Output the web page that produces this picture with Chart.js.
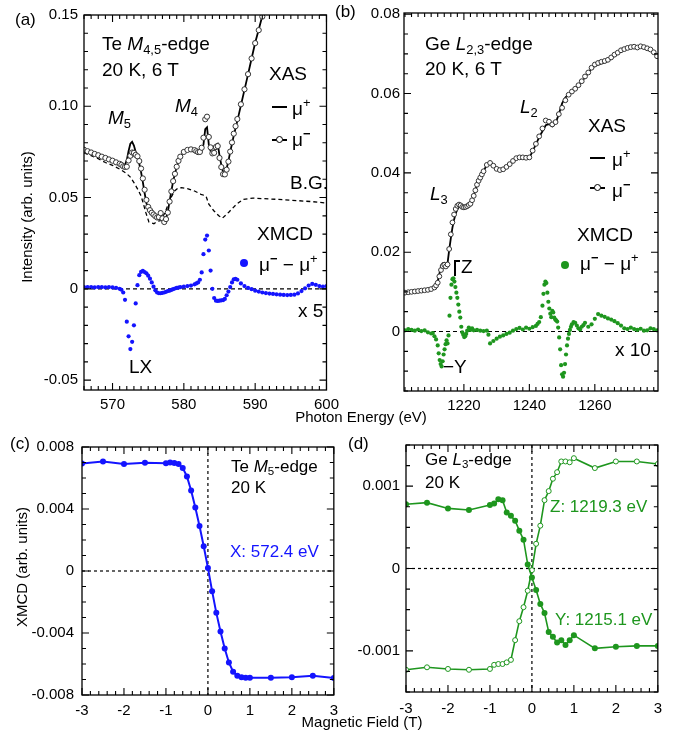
<!DOCTYPE html>
<html lang="en">
<head>
<meta charset="UTF-8">
<title>Te M4,5 / Ge L2,3 XAS and XMCD</title>
<script src="https://cdn.jsdelivr.net/npm/chart.js"></script>
<style>
  body { margin: 0; background: #fff; }
  #fig { position: relative; width: 675px; height: 737px; font-family: 'Liberation Sans', Arial, sans-serif; color: #000; }
  canvas { position: absolute; }
  .t { position: absolute; white-space: nowrap; line-height: 1; }
  .t sub { font-size: 0.68em; position: relative; top: 0.3em; vertical-align: baseline; }
  .t sup { font-size: 0.68em; position: relative; top: -0.6em; vertical-align: baseline; }
  .ln { position: absolute; height: 1.6px; background: #000; }
  .oc { position: absolute; width: 5px; height: 5px; border: 1px solid #000; border-radius: 50%; background: #fff; }
  .dot { position: absolute; width: 8px; height: 8px; border-radius: 50%; }
  .vl { position: absolute; width: 1.5px; background: #000; }
  .rot { position: absolute; white-space: nowrap; font-size: 15px; line-height: 1; transform: translate(-50%, -50%) rotate(-90deg); }
</style>
</head>
<body>
<div id="fig">
  <canvas id="ca" width="345" height="410" style="left:0;top:0"></canvas>
  <canvas id="cb" width="330" height="410" style="left:340px;top:0"></canvas>
  <canvas id="cc" width="345" height="290" style="left:0;top:430px"></canvas>
  <canvas id="cd" width="330" height="290" style="left:340px;top:430px"></canvas>

  <!-- panel labels and axis titles -->
  <div class="t" style="left:15px;top:11px;font-size:17px">(a)</div>
  <div class="t" style="left:335px;top:3px;font-size:17px">(b)</div>
  <div class="t" style="left:10px;top:435px;font-size:17px">(c)</div>
  <div class="t" style="left:348px;top:435px;font-size:17px">(d)</div>
  <div class="t" style="left:361px;top:409px;font-size:15px;transform:translateX(-50%)">Photon Energy (eV)</div>
  <div class="t" style="left:362px;top:714px;font-size:15px;transform:translateX(-50%)">Magnetic Field (T)</div>
  <div class="rot" style="left:26px;top:217px">Intensity (arb. units)</div>
  <div class="rot" style="left:21px;top:567px">XMCD (arb. units)</div>

  <!-- (a) annotations -->
  <div class="t" style="left:102px;top:34px;font-size:19px">Te <i>M</i><sub>4,5</sub>-edge</div>
  <div class="t" style="left:102px;top:60px;font-size:19px">20 K, 6 T</div>
  <div class="t" style="left:108px;top:108px;font-size:19px"><i>M</i><sub>5</sub></div>
  <div class="t" style="left:175px;top:96px;font-size:19px"><i>M</i><sub>4</sub></div>
  <div class="t" style="left:269px;top:64px;font-size:19px">XAS</div>
  <div class="ln" style="left:272px;top:106px;width:15px"></div>
  <div class="t" style="left:292px;top:99px;font-size:19px">μ<sup>+</sup></div>
  <div class="ln" style="left:272px;top:139px;width:15px"></div>
  <div class="oc" style="left:276px;top:136px"></div>
  <div class="t" style="left:292px;top:130px;font-size:19px">μ<sup><b>−</b></sup></div>
  <div class="t" style="left:290px;top:173px;font-size:19px">B.G.</div>
  <div class="t" style="left:257px;top:224px;font-size:19px">XMCD</div>
  <div class="dot" style="left:240px;top:259px;background:#1414ff"></div>
  <div class="t" style="left:259px;top:255px;font-size:19px">μ<sup><b>−</b></sup> − μ<sup>+</sup></div>
  <div class="t" style="left:298px;top:301px;font-size:19px">x 5</div>
  <div class="t" style="left:129px;top:357px;font-size:19px">LX</div>

  <!-- (b) annotations -->
  <div class="t" style="left:425px;top:34px;font-size:19px">Ge <i>L</i><sub>2,3</sub>-edge</div>
  <div class="t" style="left:425px;top:59px;font-size:19px">20 K, 6 T</div>
  <div class="t" style="left:520px;top:97px;font-size:19px"><i>L</i><sub>2</sub></div>
  <div class="t" style="left:430px;top:184px;font-size:19px"><i>L</i><sub>3</sub></div>
  <div class="t" style="left:588px;top:116px;font-size:19px">XAS</div>
  <div class="ln" style="left:590px;top:157px;width:15px"></div>
  <div class="t" style="left:612px;top:150px;font-size:19px">μ<sup>+</sup></div>
  <div class="ln" style="left:590px;top:187px;width:15px"></div>
  <div class="oc" style="left:594px;top:184px"></div>
  <div class="t" style="left:612px;top:181px;font-size:19px">μ<sup><b>−</b></sup></div>
  <div class="t" style="left:577px;top:225px;font-size:19px">XMCD</div>
  <div class="dot" style="left:561px;top:261px;background:#1e961e"></div>
  <div class="t" style="left:580px;top:254px;font-size:19px">μ<sup><b>−</b></sup> − μ<sup>+</sup></div>
  <div class="t" style="left:615px;top:340px;font-size:19px">x 10</div>
  <div class="t" style="left:443px;top:357px;font-size:19px">−Y</div>
  <div class="vl" style="left:454px;top:260px;height:16px"></div>
  <div class="ln" style="left:454px;top:260px;width:6px"></div>
  <div class="t" style="left:461px;top:257px;font-size:19px">Z</div>

  <!-- (c) annotations -->
  <div class="t" style="left:231px;top:458px;font-size:17px">Te <i>M</i><sub>5</sub>-edge</div>
  <div class="t" style="left:231px;top:479px;font-size:17px">20 K</div>
  <div class="t" style="left:230px;top:543px;font-size:17px;color:#1414ff">X: 572.4 eV</div>

  <!-- (d) annotations -->
  <div class="t" style="left:425px;top:451px;font-size:17px">Ge <i>L</i><sub>3</sub>-edge</div>
  <div class="t" style="left:425px;top:474px;font-size:17px">20 K</div>
  <div class="t" style="left:550px;top:498px;font-size:17px;color:#1e961e">Z: 1219.3 eV</div>
  <div class="t" style="left:555px;top:611px;font-size:17px;color:#1e961e">Y: 1215.1 eV</div>
</div>

<script>
// ---- (a) Te M4,5-edge ----
const aEnergy = [566, 566.5, 567, 567.5, 568, 568.5, 569, 569.5, 570, 570.5, 571,
  571.25, 571.5, 571.75, 572, 572.25, 572.5, 572.75, 573, 573.25, 573.5, 573.75, 574, 574.25, 574.5, 574.75,
  575, 575.25, 575.5, 575.75, 576, 576.25, 576.5, 576.75, 577, 577.25, 577.5, 577.75, 578, 578.25, 578.5, 578.75,
  579, 579.25, 579.5, 580, 580.5, 581, 581.5,
  581.75, 582, 582.25, 582.5, 582.75, 583, 583.25, 583.5, 583.75, 584, 584.25, 584.5, 584.75, 585, 585.25, 585.5,
  585.75, 586, 586.25, 586.5, 586.75, 587, 587.25, 587.5,
  588, 588.5, 589, 589.5, 590, 590.5, 591, 591.5, 592, 592.5, 593, 593.5, 594, 594.5, 595, 595.5, 596, 596.5,
  597, 597.5, 598, 598.5, 599, 599.5, 600];
const aMuPlus = [0.0760, 0.0752, 0.0745, 0.0737, 0.0730, 0.0722, 0.0715, 0.0707, 0.0700, 0.0692, 0.0685,
  0.0680, 0.0675, 0.0680, 0.0705, 0.0755, 0.0795, 0.0805, 0.0785, 0.0750, 0.0722, 0.0685, 0.0640, 0.0585, 0.0525, 0.0470,
  0.0435, 0.0420, 0.0410, 0.0405, 0.0400, 0.0395, 0.0398, 0.0420, 0.0390, 0.0370, 0.0385, 0.0420, 0.0480, 0.0535, 0.0590, 0.0630,
  0.0668, 0.0700, 0.0722, 0.0748, 0.0758, 0.0760, 0.0755,
  0.0748, 0.0742, 0.0740, 0.0755, 0.0790, 0.0875, 0.0885, 0.0790, 0.0755, 0.0742, 0.0755, 0.0790, 0.0795, 0.0730, 0.0680, 0.0640,
  0.0638, 0.0660, 0.0700, 0.0750, 0.0795, 0.0840, 0.0880, 0.0920,
  0.1005, 0.1090, 0.1175, 0.1262, 0.1348, 0.1420, 0.1495, 0.1570, 0.1650, null, null, null, null, null, null, null, null, null,
  null, null, null, null, null, null, null];
const aMuMinus = [0.0762, 0.0754, 0.0747, 0.0739, 0.0732, 0.0724, 0.0717, 0.0709, 0.0702, 0.0693, 0.0685,
  0.0679, 0.0671, 0.0668, 0.0669, 0.0703, 0.0729, 0.0747, 0.0745, 0.0734, 0.0726, 0.0700, 0.0659, 0.0605, 0.0543, 0.0487,
  0.0449, 0.0431, 0.0417, 0.0407, 0.0398, 0.0391, 0.0393, 0.0415, 0.0386, 0.0366, 0.0382, 0.0418, 0.0478, 0.0534, 0.0590, 0.0630,
  0.0669, 0.0701, 0.0724, 0.0750, 0.0761, 0.0764, 0.0760,
  0.0754, 0.0749, 0.0750, 0.0773, 0.0828, 0.0929, 0.0943, 0.0832, 0.0775, 0.0742, 0.0745, 0.0777, 0.0782, 0.0717, 0.0667, 0.0628,
  0.0627, 0.0653, 0.0697, 0.0752, 0.0802, 0.0850, 0.0891, 0.0930,
  0.1011, 0.1093, 0.1176, 0.1262, 0.1346, 0.1417, 0.1491, 0.1565, 0.1645, null, null, null, null, null, null, null, null, null,
  null, null, null, null, null, null, null];
const aXmcd = [0.0010, 0.0010, 0.0010, 0.0008, 0.0010, 0.0010, 0.0008, 0.0010, 0.0008, 0.0005, 0.0000,
  -0.0005, -0.0020, -0.0060, -0.0180, -0.0260, -0.0330, -0.0290, -0.0200, -0.0080, 0.0020, 0.0075, 0.0093, 0.0098, 0.0092, 0.0085,
  0.0072, 0.0056, 0.0035, 0.0012, -0.0008, -0.0020, -0.0024, -0.0024, -0.0022, -0.0020, -0.0016, -0.0012, -0.0010, -0.0006, -0.0002, 0.0002,
  0.0005, 0.0007, 0.0009, 0.0012, 0.0015, 0.0018, 0.0025,
  0.0030, 0.0035, 0.0050, 0.0090, 0.0190, 0.0270, 0.0292, 0.0210, 0.0100, 0.0000, -0.0050, -0.0065, -0.0066, -0.0065, -0.0063, -0.0062,
  -0.0055, -0.0035, -0.0015, 0.0010, 0.0035, 0.0052, 0.0055, 0.0050,
  0.0030, 0.0015, 0.0005, -0.0002, -0.0010, -0.0015, -0.0020, -0.0023, -0.0026, -0.0028, -0.0030, -0.0032, -0.0033, -0.0034, -0.0033, -0.0032, -0.0025, -0.0012,
  0.0003, 0.0018, 0.0027, 0.0022, 0.0015, 0.0013, 0.0015];
const aBgEnergy = [566, 567, 568, 569, 570, 571, 571.9, 572.5, 573, 573.5, 574, 574.3, 574.65, 575.1, 575.8, 576.25, 576.7,
  577.4, 578.05, 578.7, 579.2, 579.65, 580.6, 581.5, 582.4, 583.1, 583.5, 584.2, 584.9, 585.4, 586.3, 587.4, 588.3, 589.7,
  593.3, 597.9, 600];
const aBg = [0.0745, 0.0730, 0.0713, 0.0692, 0.0676, 0.0656, 0.0634, 0.0612, 0.0582, 0.0548, 0.0509, 0.0470, 0.0420, 0.0366, 0.0357, 0.0370, 0.0373,
  0.0420, 0.0490, 0.0536, 0.0552, 0.0554, 0.0548, 0.0536, 0.0518, 0.0509, 0.0464, 0.0428, 0.0400, 0.0387, 0.0420, 0.0464, 0.0490, 0.0497,
  0.0490, 0.0478, 0.0470];
const aXTicks = [570, 580, 590, 600];
const aXLabels = ['570', '580', '590', '600'];
const aYTicks = [-0.05, 0, 0.05, 0.10, 0.15];
const aYLabels = ['-0.05', '0', '0.05', '0.10', '0.15'];

// ---- (b) Ge L2,3-edge ----
const bEnergy = [1202, 1203, 1204, 1205, 1206, 1207, 1208, 1209, 1210, 1211,
  1211.5, 1212, 1212.5, 1213, 1213.5, 1214, 1214.5, 1215, 1215.5, 1216,
  1216.5, 1217, 1217.5, 1218, 1218.5, 1219, 1219.5, 1220, 1220.5, 1221,
  1221.5, 1222, 1222.5, 1223, 1223.5, 1224, 1224.5, 1225, 1225.5, 1226,
  1227, 1228, 1229, 1230, 1231, 1232, 1233, 1234, 1235, 1236,
  1237, 1238, 1239, 1240, 1241, 1242, 1243, 1244, 1245, 1246,
  1247, 1248, 1249, 1250, 1251, 1252, 1253, 1254, 1255, 1256,
  1257, 1258, 1259, 1260, 1261, 1262, 1263, 1264, 1265, 1266,
  1267, 1268, 1269, 1270, 1271, 1272, 1273, 1274, 1275, 1276,
  1277, 1278, 1279];
const bMuPlus = [0.0098, 0.0099, 0.0100, 0.0101, 0.0102, 0.0103, 0.0104, 0.0105, 0.0107, 0.0112,
  0.0118, 0.0127, 0.0145, 0.0163, 0.0172, 0.0173, 0.0167, 0.0172, 0.0205, 0.0235,
  0.0262, 0.0282, 0.0298, 0.0308, 0.0314, 0.0315, 0.0314, 0.0314, 0.0315, 0.0316,
  0.0318, 0.0322, 0.0330, 0.0342, 0.0356, 0.0370, 0.0380, 0.0388, 0.0396, 0.0404,
  0.0420, 0.0428, 0.0420, 0.0412, 0.0408, 0.0410, 0.0416, 0.0422, 0.0430, 0.0436,
  0.0438, 0.0438, 0.0437, 0.0438, 0.0455, 0.0472, 0.0490, 0.0505, 0.0520, 0.0523,
  0.0517, 0.0525, 0.0548, 0.0575, 0.0590, 0.0598, 0.0603, 0.0610, 0.0620, 0.0630,
  0.0641, 0.0652, 0.0663, 0.0670, 0.0673, 0.0676, 0.0678, 0.0682, 0.0688, 0.0695,
  0.0701, 0.0707, 0.0711, 0.0714, 0.0716, 0.0717, 0.0716, 0.0718, 0.0717, 0.0714,
  0.0710, 0.0703, 0.0694];
const bMuMinus = [0.0098, 0.0099, 0.0100, 0.0101, 0.0102, 0.0103, 0.0104, 0.0105, 0.0107, 0.0111,
  0.0116, 0.0123, 0.0139, 0.0155, 0.0165, 0.0168, 0.0164, 0.0169, 0.0208, 0.0245,
  0.0275, 0.0295, 0.0309, 0.0317, 0.0320, 0.0318, 0.0314, 0.0313, 0.0314, 0.0316,
  0.0319, 0.0322, 0.0331, 0.0342, 0.0356, 0.0370, 0.0380, 0.0388, 0.0396, 0.0404,
  0.0420, 0.0425, 0.0418, 0.0410, 0.0407, 0.0409, 0.0415, 0.0422, 0.0430, 0.0437,
  0.0439, 0.0439, 0.0438, 0.0439, 0.0456, 0.0473, 0.0492, 0.0512, 0.0532, 0.0529,
  0.0522, 0.0528, 0.0548, 0.0564, 0.0583, 0.0597, 0.0605, 0.0612, 0.0621, 0.0631,
  0.0643, 0.0653, 0.0665, 0.0673, 0.0677, 0.0680, 0.0682, 0.0685, 0.0691, 0.0698,
  0.0703, 0.0709, 0.0712, 0.0715, 0.0717, 0.0718, 0.0716, 0.0719, 0.0717, 0.0714,
  0.0711, 0.0704, 0.0694];
const bXmcdEnergy = [1202, 1203, 1204, 1205, 1206, 1207, 1208, 1209, 1210, 1210.5,
  1211, 1211.5, 1212, 1212.3, 1212.6, 1212.9, 1213.2, 1213.5, 1213.8, 1214.1,
  1214.4, 1214.7, 1215, 1215.3, 1215.6, 1215.9, 1216.2, 1216.5, 1216.8, 1217.1,
  1217.4, 1217.7, 1218, 1218.3, 1218.6, 1218.9, 1219.2, 1219.5, 1219.8, 1220.1,
  1220.4, 1220.7, 1221, 1221.5, 1222, 1222.5, 1223, 1224, 1225, 1226,
  1227, 1227.5, 1228, 1229, 1230, 1231, 1232, 1233, 1234, 1235,
  1236, 1237, 1238, 1239, 1240, 1241, 1242, 1242.5, 1243, 1243.5,
  1244, 1244.3, 1244.6, 1244.9, 1245.2, 1245.5, 1245.8, 1246.1, 1246.4, 1246.7,
  1247, 1247.3, 1247.6, 1247.9, 1248.2, 1248.5, 1248.8, 1249.1, 1249.4, 1249.7,
  1250, 1250.3, 1250.6, 1250.9, 1251.2, 1251.5, 1251.8, 1252.1, 1252.4, 1252.7,
  1253, 1253.5, 1254, 1254.5, 1255, 1255.5, 1256, 1256.5, 1257, 1258,
  1259, 1260, 1261, 1262, 1263, 1264, 1265, 1266, 1267, 1268,
  1269, 1270, 1271, 1272, 1273, 1274, 1275, 1276, 1277, 1278,
  1279];
const bXmcd = [0.0003, 0.0006, 0.0004, 0.0002, 0.0005, 0.0001, 0.0003, -0.0002, -0.0005, -0.0004,
  -0.0012, -0.0020, -0.0035, -0.0055, -0.0072, -0.0082, -0.0088, -0.0075, -0.0058, -0.0045,
  -0.0032, -0.0022, -0.0030, -0.0010, 0.0040, 0.0085, 0.0118, 0.0132, 0.0134, 0.0126,
  0.0112, 0.0098, 0.0085, 0.0068, 0.0050, 0.0035, 0.0012, -0.0002, -0.0008, -0.0014,
  -0.0012, -0.0006, 0.0002, 0.0010, 0.0004, 0.0008, 0.0003, 0.0004, 0.0002, 0.0001,
  0.0002, -0.0008, -0.0030, -0.0024, -0.0018, -0.0013, -0.0010, -0.0006, -0.0003, 0.0002,
  0.0006, 0.0009, 0.0005, 0.0010, 0.0007, 0.0011, 0.0014, 0.0019, 0.0024, 0.0036,
  0.0065, 0.0095, 0.0118, 0.0126, 0.0122, 0.0098, 0.0075, 0.0058, 0.0045, 0.0036,
  0.0052, 0.0048, 0.0035, 0.0030, 0.0028, 0.0025, 0.0010, -0.0015, -0.0045, -0.0085,
  -0.0108, -0.0114, -0.0104, -0.0082, -0.0058, -0.0035, -0.0018, -0.0006, 0.0004, 0.0012,
  0.0018, 0.0024, 0.0022, 0.0015, 0.0008, 0.0005, 0.0012, 0.0016, 0.0022, 0.0012,
  0.0018, 0.0032, 0.0044, 0.0040, 0.0037, 0.0033, 0.0030, 0.0026, 0.0021, 0.0015,
  0.0008, 0.0006, 0.0010, 0.0006, 0.0004, 0.0007, 0.0002, 0.0003, 0.0008, 0.0006,
  0.0003];
const bXTicks = [1220, 1240, 1260];
const bXLabels = ['1220', '1240', '1260'];
const bYTicks = [0, 0.02, 0.04, 0.06, 0.08];
const bYLabels = ['0', '0.02', '0.04', '0.06', '0.08'];

// ---- (c) Te M5-edge hysteresis, X: 572.4 eV ----
const cField = [-3, -2.5, -2, -1.5, -1, -0.9, -0.8, -0.7, -0.6, -0.5, -0.4, -0.3, -0.2, -0.1, 0,
  0.1, 0.2, 0.3, 0.4, 0.5, 0.6, 0.7, 0.8, 0.9, 1, 1.5, 2, 2.5, 3];
const cXmcd = [0.00693, 0.00706, 0.00690, 0.00698, 0.00695, 0.00700, 0.00697, 0.00690, 0.00665, 0.00610, 0.00520, 0.00410, 0.00290, 0.00160, 0.00020,
  -0.00130, -0.00270, -0.00390, -0.00500, -0.00590, -0.00650, -0.00676, -0.00685, -0.00688, -0.00689, -0.00688, -0.00686, -0.00676, -0.00690];
const cXTicks = [-3, -2, -1, 0, 1, 2, 3];
const cXLabels = ['-3', '-2', '-1', '0', '1', '2', '3'];
const cYTicks = [-0.008, -0.004, 0, 0.004, 0.008];
const cYLabels = ['-0.008', '-0.004', '0', '0.004', '0.008'];

// ---- (d) Ge L3-edge hysteresis, Y: 1215.1 eV (filled), Z: 1219.3 eV (open) ----
const dField = [-3, -2.5, -2, -1.5, -1, -0.9, -0.8, -0.7, -0.6, -0.5, -0.4, -0.3, -0.2, -0.1, 0,
  0.1, 0.2, 0.3, 0.4, 0.5, 0.6, 0.7, 0.8, 0.9, 1, 1.5, 2, 2.5, 3];
const dY = [0.00078, 0.00080, 0.00073, 0.00071, 0.00077, 0.00079, 0.00084, 0.00083, 0.00068, 0.00064, 0.00058, 0.00046, 0.00035, 0.00005, -0.00011,
  -0.00026, -0.00043, -0.00054, -0.00077, -0.00083, -0.00090, -0.00087, -0.00093, -0.00087, -0.00081, -0.00097, -0.00095, -0.00094, -0.00094];
const dZ = [-0.00123, -0.00120, -0.00122, -0.00123, -0.00122, -0.00117, -0.00116, -0.00116, -0.00114, -0.00111, -0.00087, -0.00064, -0.00047, -0.00027, -0.00002,
  0.00030, 0.00052, 0.00083, 0.00094, 0.00109, 0.00117, 0.00130, 0.00130, 0.00129, 0.00134, 0.00122, 0.00130, 0.00130, 0.00127];
const dXTicks = [-3, -2, -1, 0, 1, 2, 3];
const dXLabels = ['-3', '-2', '-1', '0', '1', '2', '3'];
const dYTicks = [-0.001, 0, 0.001];
const dYLabels = ['-0.001', '0', '0.001'];

const BLUE = '#1414ff';
const GREEN = '#1e961e';

Chart.defaults.font.family = "'Liberation Sans', Arial, sans-serif";
Chart.defaults.font.size = 15;
Chart.defaults.color = '#000';

function pts(xs, ys) {
  return xs.map((x, i) => ({ x: x, y: ys[i] }));
}

// frame, inward ticks on all four sides, dashed zero lines
const framePlugin = {
  id: 'frame',
  beforeDatasetsDraw(chart, args, o) {
    const { ctx, chartArea: a, scales: { x, y } } = chart;
    ctx.save();
    ctx.strokeStyle = '#000';
    ctx.lineWidth = 1.2;
    ctx.setLineDash(o.dash);
    if (o.zeroY) {
      const py = y.getPixelForValue(0);
      ctx.beginPath(); ctx.moveTo(a.left, py); ctx.lineTo(a.right, py); ctx.stroke();
    }
    if (o.zeroX) {
      const px = x.getPixelForValue(0);
      ctx.beginPath(); ctx.moveTo(px, a.top); ctx.lineTo(px, a.bottom); ctx.stroke();
    }
    ctx.restore();
  },
  afterDatasetsDraw(chart, args, o) {
    const { ctx, chartArea: a, scales: { x, y } } = chart;
    ctx.save();
    ctx.strokeStyle = '#000';
    ctx.lineWidth = 1.3;
    ctx.strokeRect(a.left, a.top, a.right - a.left, a.bottom - a.top);
    ctx.lineWidth = 1.1;
    ctx.beginPath();
    const isMajor = (v, m) => Math.abs(v / m - Math.round(v / m)) < 1e-6;
    for (let k = Math.ceil(x.min / o.xStep - 1e-9); k * o.xStep <= x.max + 1e-9; k++) {
      const v = k * o.xStep, len = isMajor(v, o.xMajor) ? 7 : 4, p = x.getPixelForValue(v);
      ctx.moveTo(p, a.bottom); ctx.lineTo(p, a.bottom - len);
      ctx.moveTo(p, a.top); ctx.lineTo(p, a.top + len);
    }
    for (let k = Math.ceil(y.min / o.yStep - 1e-9); k * o.yStep <= y.max + 1e-9; k++) {
      const v = k * o.yStep, len = isMajor(v, o.yMajor) ? 7 : 4, p = y.getPixelForValue(v);
      ctx.moveTo(a.left, p); ctx.lineTo(a.left + len, p);
      ctx.moveTo(a.right, p); ctx.lineTo(a.right - len, p);
    }
    ctx.stroke();
    ctx.restore();
  }
};

function axis(ax, dir) {
  return {
    type: 'linear',
    min: ax.min,
    max: ax.max,
    grid: { display: false, drawTicks: false },
    border: { display: false },
    ticks: { padding: ax.pad, autoSkip: false, maxRotation: 0, color: '#000', callback: (v, i) => ax.labels[i] },
    afterBuildTicks: s => { s.ticks = ax.ticks.map(v => ({ value: v })); },
    afterFit: s => { if (dir === 'x') s.height = ax.size; else s.width = ax.size; }
  };
}

function panel(id, p) {
  return new Chart(document.getElementById(id), {
    type: 'scatter',
    data: { datasets: p.datasets },
    options: {
      responsive: false,
      animation: false,
      devicePixelRatio: 1,
      layout: { padding: p.pad },
      plugins: { legend: { display: false }, tooltip: { enabled: false }, frame: p.frame },
      scales: { x: axis(p.x, 'x'), y: axis(p.y, 'y') }
    },
    plugins: [framePlugin]
  });
}

panel('ca', {
  pad: { left: 0, top: 10, right: 12, bottom: 0 },
  x: { min: 566, max: 600, ticks: aXTicks, labels: aXLabels, pad: 6, size: 20 },
  y: { min: -0.0554, max: 0.15, ticks: aYTicks, labels: aYLabels, pad: 6, size: 84 },
  frame: { xStep: 1, xMajor: 10, yStep: 0.01, yMajor: 0.05, zeroY: true, zeroX: false, dash: [4, 3] },
  datasets: [
    { label: 'μ−', data: pts(aEnergy, aMuMinus), showLine: false, pointRadius: 2.6, pointBorderWidth: 1,
      pointBorderColor: '#333', pointBackgroundColor: '#fff', order: 0 },
    { label: 'μ+', data: pts(aEnergy, aMuPlus), showLine: true, borderColor: '#000', borderWidth: 1.8, pointRadius: 0, order: 1 },
    { label: 'B.G.', data: pts(aBgEnergy, aBg), showLine: true, borderColor: '#000', borderWidth: 1.3, borderDash: [4, 3], pointRadius: 0, order: 2 },
    { label: 'XMCD x5', data: pts(aEnergy, aXmcd), showLine: false, pointRadius: 2.1, pointBorderWidth: 0,
      pointBackgroundColor: BLUE, order: 0 }
  ]
});

panel('cb', {
  pad: { left: 0, top: 10, right: 12, bottom: 0 },
  x: { min: 1201.7, max: 1279.3, ticks: bXTicks, labels: bXLabels, pad: 6, size: 19 },
  y: { min: -0.015, max: 0.0803, ticks: bYTicks, labels: bYLabels, pad: 4, size: 64 },
  frame: { xStep: 2, xMajor: 20, yStep: 0.005, yMajor: 0.02, zeroY: true, zeroX: false, dash: [4, 3] },
  datasets: [
    { label: 'μ−', data: pts(bEnergy, bMuMinus), showLine: false, pointRadius: 2.4, pointBorderWidth: 1,
      pointBorderColor: '#333', pointBackgroundColor: '#fff', order: 0 },
    { label: 'μ+', data: pts(bEnergy, bMuPlus), showLine: true, borderColor: '#000', borderWidth: 1.8, pointRadius: 0, order: 1 },
    { label: 'XMCD x10', data: pts(bXmcdEnergy, bXmcd), showLine: false, pointRadius: 2.1, pointBorderWidth: 0,
      pointBackgroundColor: GREEN, order: 0 }
  ]
});

panel('cc', {
  pad: { left: 0, top: 11, right: 8, bottom: 0 },
  x: { min: -3, max: 3, ticks: cXTicks, labels: cXLabels, pad: 7, size: 25 },
  y: { min: -0.008, max: 0.008, ticks: cYTicks, labels: cYLabels, pad: 8, size: 82 },
  frame: { xStep: 0.2, xMajor: 1, yStep: 0.001, yMajor: 0.004, zeroY: true, zeroX: true, dash: [3, 3] },
  datasets: [
    { label: 'X: 572.4 eV', data: pts(cField, cXmcd), showLine: true, borderColor: BLUE, borderWidth: 2,
      pointRadius: 3, pointBorderWidth: 0, pointBackgroundColor: BLUE }
  ]
});

panel('cd', {
  pad: { left: 0, top: 12, right: 12, bottom: 0 },
  x: { min: -3, max: 3, ticks: dXTicks, labels: dXLabels, pad: 8, size: 28 },
  y: { min: -0.0015, max: 0.0015, ticks: dYTicks, labels: dYLabels, pad: 6, size: 66 },
  frame: { xStep: 0.2, xMajor: 1, yStep: 0.00025, yMajor: 0.001, zeroY: true, zeroX: true, dash: [3, 3] },
  datasets: [
    { label: 'Y: 1215.1 eV', data: pts(dField, dY), showLine: true, borderColor: GREEN, borderWidth: 1.6,
      pointRadius: 3, pointBorderWidth: 0, pointBackgroundColor: GREEN },
    { label: 'Z: 1219.3 eV', data: pts(dField, dZ), showLine: true, borderColor: GREEN, borderWidth: 1.6,
      pointRadius: 2.5, pointBorderWidth: 1, pointBorderColor: GREEN, pointBackgroundColor: '#fff' }
  ]
});
</script>
</body>
</html>
